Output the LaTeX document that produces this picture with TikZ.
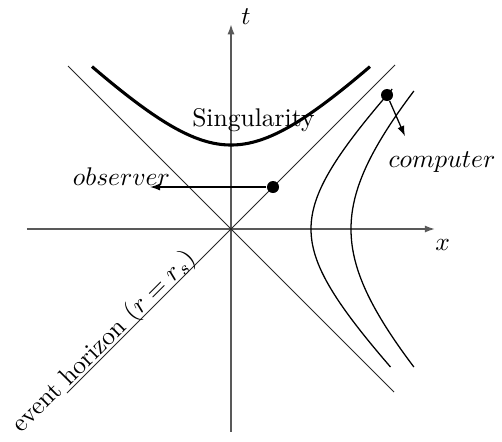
\documentclass[tikz,border=0pt]{standalone}
\usetikzlibrary{arrows.meta}

\begin{document}
\begin{tikzpicture}[
    x=0.55cm, y=0.55cm,
    axis/.style={-{Latex[length=4pt, width=2.8pt]}, black!65, line width=0.6pt},
    lightcone/.style={black!85, line width=0.4pt},
    worldline/.style={line width=0.5pt, smooth, samples=60},
    singular/.style={line width=1.2pt, smooth, samples=60},
    dot/.style={circle, fill, inner sep=0pt, minimum size=4.7pt},
    arr/.style={-{Latex[length=4pt, width=2.8pt]}, line width=0.5pt},
    lbl/.style={anchor=base, inner sep=0pt},
]
\useasboundingbox (-5.775,-5.3) rectangle (6.775,5.725);

% axes
\coordinate (xl) at (-5.1,0);
\coordinate (xr) at (5.1,0);
\coordinate (tb) at (0,-5.07);
\coordinate (tt) at (0,5.12);
\draw[axis] (xl) -- (xr);
\draw[axis] (tb) -- (tt);
\node[lbl] (xlab) at (5.29,-0.525) {$x$};
\node[lbl] (tlab) at (0.375,5.125) {$t$};

% light cone / horizon
\coordinate (ul) at (-4.075,4.075);
\coordinate (lr) at (4.075,-4.075);
\coordinate (ll) at (-4.1,-4.1);
\coordinate (ur) at (4.1,4.1);
\draw[lightcone] (ul) -- (lr);
\draw[lightcone] (ll) -- (ur);
\node[lbl, rotate=45] (horizon) at (-3.05,-2.94) {event horizon ($r=r_s$)};

% hyperbolae
\draw[worldline, domain=-3.45:3.5, variable=\s] plot ({sqrt(4+\s*\s)}, \s);
\draw[worldline, domain=-3.45:3.45, variable=\s] plot ({sqrt(9+\s*\s)}, \s);
\draw[singular, domain=-3.475:3.475] plot (\x, {sqrt(4.41+\x*\x)});
\node[lbl] (sing) at (0.56,2.575) {Singularity};

% observer and computer
\node[dot] (obs) at (1.05,1.05) {};
\coordinate (obsend) at (-2.025,1.05);
\draw[arr] (obs) -- (obsend);
\node[lbl] (obslab) at (-2.74,1.09) {$observer$};

\node[dot] (comp) at (3.9,3.35) {};
\coordinate (compend) at (4.35,2.32);
\draw[arr] (comp) -- (compend);
\node[lbl] (complab) at (5.275,1.55) {$computer$};

\end{tikzpicture}
\end{document}
